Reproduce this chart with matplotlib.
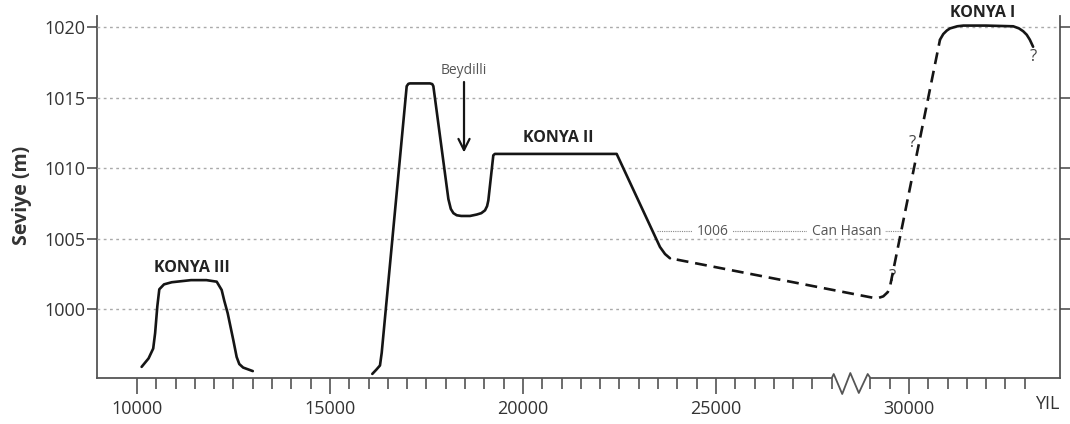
import matplotlib.pyplot as plt

plt.rcParams['font.family'] = ['Open Sans', 'DejaVu Sans']

# Konya III
k3_yil = [10120, 10300, 10420, 10470, 10527, 10578, 10700, 10900, 11400, 11800,
          12065, 12194, 12260, 12350, 12495, 12582, 12650, 12750, 13000]
k3_seviye = [995.9, 996.5, 997.2, 998.3, 1000.2, 1001.4, 1001.75, 1001.9, 1002.05, 1002.05,
             1001.94, 1001.35, 1000.6, 999.7, 997.8, 996.6, 996.1, 995.85, 995.6]

# ana eğri: Beydilli ve Konya II
ana_yil = [16096, 16200, 16295, 16340, 16987, 17030, 17073, 17591, 17650, 17678,
           18067, 18130, 18197, 18283, 18400, 18627, 18800, 18920, 19016, 19070,
           19102, 19231, 19270, 19318, 22427, 23549, 23680, 23808]
ana_seviye = [995.4, 995.7, 996.0, 996.9, 1015.8, 1015.97, 1016.0, 1016.0, 1015.95, 1015.8,
              1007.8, 1007.1, 1006.8, 1006.65, 1006.6, 1006.6, 1006.7, 1006.8, 1007.0, 1007.3,
              1007.7, 1010.9, 1011.0, 1011.0, 1011.0, 1004.4, 1003.9, 1003.6]

# kesikli kısım (Can Hasan)
kesik_yil = [23808, 29067, 29200, 29334, 29450, 29508, 30803]
kesik_seviye = [1003.6, 1000.8, 1000.78, 1000.9, 1001.2, 1001.6, 1019.1]

# Konya I
k1_yil = [30803, 30888, 30980, 31062, 31250, 31407, 32000, 32700, 32850, 32958,
          33050, 33130, 33215]
k1_seviye = [1019.1, 1019.5, 1019.75, 1019.9, 1020.05, 1020.1, 1020.1, 1020.05, 1019.9, 1019.7,
             1019.45, 1019.1, 1018.6]

y_ticks = [1000, 1005, 1010, 1015, 1020]
x_ticks = [10000, 15000, 20000, 25000, 30000]
x_labels = ['10000', '15000', '20000', '25000', '30000']
kirik = (28000, 29000)  # eksen kırığı
can_hasan = 1005.5

fig = plt.figure(figsize=(10.7, 4.24), dpi=100)
ax = fig.add_axes([97 / 1070, 46 / 424, 963 / 1070, 362 / 424])
ax.set_xlim(8964, 33912)
ax.set_ylim(995.11, 1020.78)

siyah = '#151515'
ax.plot(k3_yil, k3_seviye, color=siyah, lw=1.9, zorder=4, solid_capstyle='round')
ax.plot(ana_yil, ana_seviye, color=siyah, lw=1.9, zorder=4, solid_capstyle='round')
ax.plot(kesik_yil, kesik_seviye, color=siyah, lw=1.9, zorder=4,
        linestyle=(4.5, (4.5, 2.6)))
ax.plot(k1_yil, k1_seviye, color=siyah, lw=1.9, zorder=4, solid_capstyle='round')

# 1006 / Can Hasan çizgisi
ax.plot([23463, 29811], [can_hasan, can_hasan], color='#888888', lw=0.8,
        linestyle=(0, (1, 1)), zorder=1.5)
kutu = dict(facecolor='white', edgecolor='none', pad=3)
ax.text(24914, can_hasan, '1006', fontsize=10, color='#555555', ha='center', va='center',
        bbox=kutu, zorder=2)
ax.text(28376, can_hasan, 'Can Hasan', fontsize=10, color='#555555', ha='center', va='center',
        bbox=kutu, zorder=2)

# etiketler
ax.text(11417, 1002.9, 'KONYA III', fontsize=11.5, fontweight='bold', color='#222222',
        ha='center', va='center')
ax.text(20907, 1012.1, 'KONYA II', fontsize=11.5, fontweight='bold', color='#222222',
        ha='center', va='center')
ax.text(31917, 1021.0, 'KONYA I', fontsize=11.5, fontweight='bold', color='#222222',
        ha='center', va='center', clip_on=False)
ax.text(18472, 1016.95, 'Beydilli', fontsize=10, color='#555555', ha='center', va='center')
ax.annotate('', xy=(18472, 1011.1), xytext=(18472, 1016.1),
            arrowprops=dict(arrowstyle='->', lw=1.6, color=siyah, mutation_scale=20,
                            shrinkA=0, shrinkB=0))
for qx, qy in [(29570, 1002.3), (30080, 1011.75), (33212, 1017.9)]:
    ax.text(qx, qy, '?', fontsize=12, color='#444444', ha='center', va='center')

# eksenler
ax.set_axisbelow(False)
ax.grid(axis='y', color='#aaaaaa', lw=1, linestyle=(0, (2, 2.5)))
ax.grid(axis='x', visible=False)
ax.set_yticks(y_ticks)
ax.set_xticks(x_ticks)
ax.set_xticklabels(x_labels)
minor = [x for x in range(10000, 33001, 500) if x not in x_ticks and x != 28500]
ax.set_xticks(minor, minor=True)

ax.tick_params(axis='x', which='major', length=11.5, width=1.1, color='#444444',
               pad=4, labelsize=13, labelcolor='#333333')
ax.tick_params(axis='x', which='minor', length=8, width=1.1, color='#444444')
ax.tick_params(axis='y', left=True, right=True, length=7, width=1.1, color='#444444',
               pad=1.5, labelsize=13, labelcolor='#333333')
for t in ax.yaxis.get_major_ticks():
    t.tick2line.set_color('#999999')

for s in ['left', 'right']:
    ax.spines[s].set_color('#555555')
    ax.spines[s].set_linewidth(1.3)
ax.spines['top'].set_visible(False)
ax.spines['bottom'].set_visible(False)

# alt eksen çizgisi, kırık işaretli
x0, x1 = ax.get_xlim()
a, b = kirik
d = (b - a) / 1000
eksen_x = [x0, a, a + 50 * d, a + 270 * d, a + 480 * d, a + 700 * d, a + 930 * d, b, x1]
eksen_y = [0, 0, 4 / 362, -16 / 362, 5 / 362, -15 / 362, 4 / 362, 0, 0]
ax.plot(eksen_x, eksen_y, color='#555555', lw=1.3, transform=ax.get_xaxis_transform(),
        clip_on=False, zorder=5)

ax.set_ylabel('Seviye (m)', fontsize=14, fontweight='bold', color='#333333')
ax.yaxis.set_label_coords(-0.0675, 0.503)
fig.text(1047 / 1070, 1 - 404 / 424, 'YIL', fontsize=13, color='#333333',
         ha='center', va='center')

plt.savefig('out.png', dpi=100)
